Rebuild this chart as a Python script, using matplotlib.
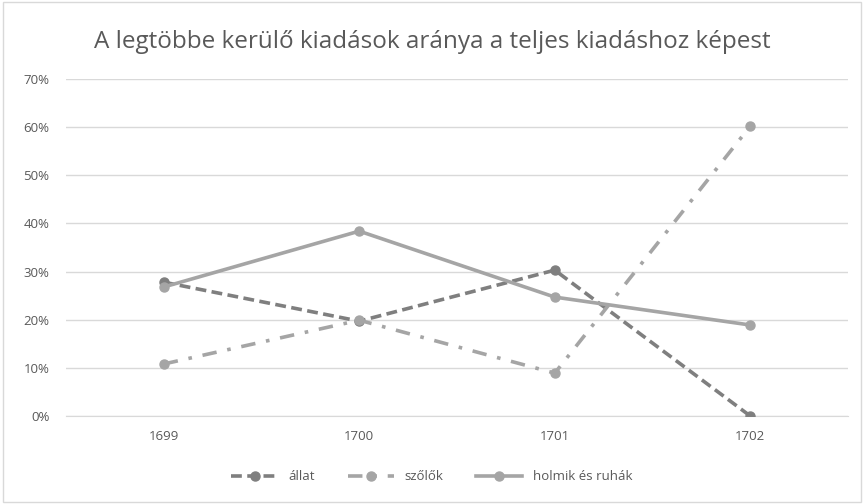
import matplotlib
matplotlib.use("Agg")
import matplotlib.pyplot as plt
from matplotlib.patches import Rectangle
from matplotlib.ticker import PercentFormatter

years = ["1699", "1700", "1701", "1702"]
allat = [27.8, 19.7, 30.3, 0.0]
szolok = [10.8, 19.9, 8.9, 60.2]
holmik = [26.8, 38.4, 24.7, 18.9]

plt.rcParams['font.family'] = ['Open Sans', 'DejaVu Sans']

fig = plt.figure(figsize=(8.64, 5.04), dpi=100)
ax = fig.add_axes([66 / 864, 1 - 416 / 504, 782 / 864, 337 / 504])

# chart border
fig.patches.append(Rectangle((0.004, 0.004), 0.992, 0.992, transform=fig.transFigure,
                             fill=False, edgecolor='#d9d9d9', linewidth=1))

x = range(len(years))
ax.plot(x, allat, color='#7f7f7f', linewidth=2.6, linestyle=(0, (3, 1.5)),
        marker='o', markersize=6.5, label='állat', zorder=3)
ax.plot(x, szolok, color='#a5a5a5', linewidth=2.6, linestyle=(0, (4, 3, 1, 3)),
        marker='o', markersize=6.5, label='szőlők', zorder=3)
ax.plot(x, holmik, color='#a5a5a5', linewidth=2.6, linestyle='-',
        marker='o', markersize=6.5, label='holmik és ruhák', zorder=3)

ax.set_xlim(-0.5, 3.5)
ax.set_ylim(0, 70)
ax.set_yticks(range(0, 71, 10))
ax.yaxis.set_major_formatter(PercentFormatter(decimals=0))
ax.set_xticks(list(x))
ax.set_xticklabels(years)
ax.grid(axis='y', color='#d9d9d9', linewidth=1)
ax.set_axisbelow(True)
for s in ['top', 'right', 'left']:
    ax.spines[s].set_visible(False)
ax.spines['bottom'].set_color('#d9d9d9')
ax.tick_params(axis='both', length=0, colors='#595959', labelsize=9.5)
ax.tick_params(axis='y', pad=12)
ax.tick_params(axis='x', pad=10)

fig.text(0.5, 1 - 42 / 504, 'A legtöbbe kerülő kiadások aránya a teljes kiadáshoz képest',
         ha='center', va='center', fontsize=17.5, color='#595959')

fig.legend(loc='center', bbox_to_anchor=(0.5, 1 - 477 / 504), ncol=3, frameon=False,
           fontsize=9.5, labelcolor='#595959', handlelength=3.5, columnspacing=2.5)

fig.savefig('out.png', dpi=100)
